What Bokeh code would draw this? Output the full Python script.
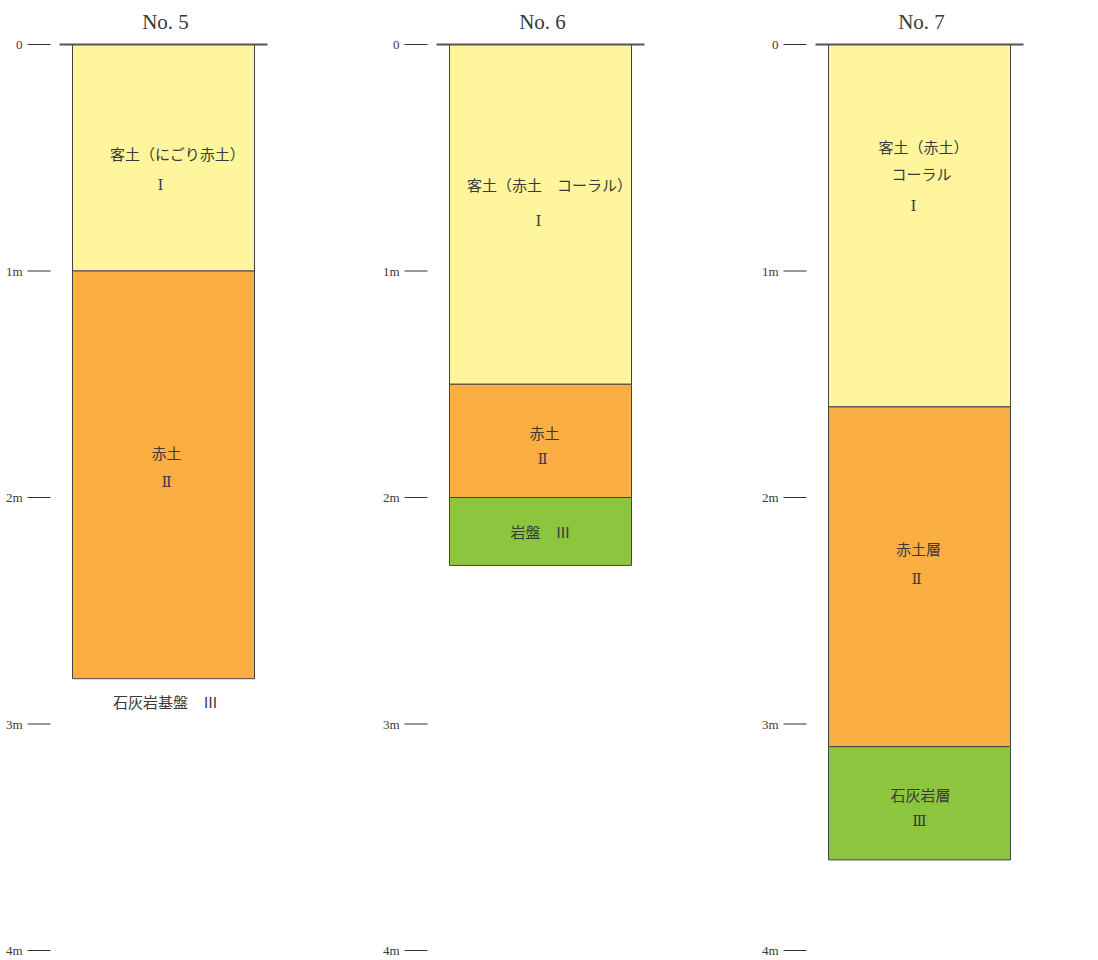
from bokeh.plotting import figure
from bokeh.models import Range1d
from bokeh.core.properties import value
from bokeh.embed import file_html
from bokeh.resources import INLINE

# ---- data ----
titles = ["No. 5", "No. 6", "No. 7"]
tick_depths = [0, 1, 2, 3, 4]
tick_labels = ["0", "1m", "2m", "3m", "4m"]

# layers per column: top depth, bottom depth, kind
no5_top = [0.0, 1.0]
no5_bot = [1.0, 2.8]
no5_kind = ["I", "II"]

no6_top = [0.0, 1.5, 2.0]
no6_bot = [1.5, 2.0, 2.3]
no6_kind = ["I", "II", "III"]

no7_top = [0.0, 1.6, 3.1]
no7_bot = [1.6, 3.1, 3.6]
no7_kind = ["I", "II", "III"]

# labels: (text, depth, x offset from column centre, roman?)
no5_labels = [("客土（にごり赤土）", 0.48, 14, False), ("Ⅰ", 0.62, -3, True),
              ("赤土", 1.80, 3, False), ("Ⅱ", 1.93, 3, True),
              ("石灰岩基盤　Ⅲ", 2.90, 2, False)]
no6_labels = [("客土（赤土　コーラル）", 0.62, 9, False), ("Ⅰ", 0.78, -2, True),
              ("赤土", 1.715, 4, False), ("Ⅱ", 1.83, 2, True),
              ("岩盤　Ⅲ", 2.15, 0, False)]
no7_labels = [("客土（赤土）", 0.45, 4, False), ("コーラル", 0.57, 2, False),
              ("Ⅰ", 0.715, -6, True), ("赤土層", 2.225, -1, False),
              ("Ⅱ", 2.36, -3, True), ("石灰岩層", 3.31, 1, False),
              ("Ⅲ", 3.43, 0, True)]

colors = {"I": "#FFF59C", "II": "#FBAE42", "III": "#8CC63F"}

columns = [
    (163, no5_top, no5_bot, no5_kind, no5_labels),
    (540, no6_top, no6_bot, no6_kind, no6_labels),
    (919, no7_top, no7_bot, no7_kind, no7_labels),
]

W, H = 1090, 960
PX_PER_M = 226.5
top_px = 44
y_top = -top_px / PX_PER_M
y_bot = (H - top_px) / PX_PER_M

p = figure(width=W, height=H, output_backend="svg", toolbar_location=None,
           x_range=Range1d(0, W), y_range=Range1d(y_bot, y_top),
           min_border=0, outline_line_color=None)
p.axis.visible = False
p.grid.visible = False
p.background_fill_color = "white"

CJK = value("Noto Sans CJK JP")
SERIF = value("Liberation Serif")
ROMAN = value("DejaVu Serif")
TXT = "#3a3a3a"
RECT_W = 182

for (cx, tops, bots, kinds, labels), title in zip(columns, titles):
    # depth scale
    p.segment(x0=[cx - 136] * len(tick_depths), x1=[cx - 113] * len(tick_depths),
              y0=tick_depths, y1=tick_depths, line_color="#333333", line_width=1)
    p.text(x=[cx - 141] * len(tick_depths), y=tick_depths, text=tick_labels,
           text_font=SERIF, text_font_size="13px", text_color=TXT,
           text_align="right", text_baseline="middle")
    # layers
    p.quad(left=[cx - RECT_W / 2] * len(tops), right=[cx + RECT_W / 2] * len(tops),
           top=tops, bottom=bots, fill_color=[colors[k] for k in kinds],
           line_color="#444444", line_width=1)
    # ground surface line
    p.segment(x0=[cx - 104], x1=[cx + 104], y0=[0], y1=[0],
              line_color="#555555", line_width=2)
    # title
    p.text(x=[cx + 2], y=[y_top + 21 / PX_PER_M], text=[title], text_font=SERIF,
           text_font_size="21px", text_color=TXT, text_align="center",
           text_baseline="middle")
    # labels
    cjk = [l for l in labels if not l[3]]
    rom = [l for l in labels if l[3]]
    p.text(x=[cx + l[2] for l in cjk], y=[l[1] for l in cjk],
           text=[l[0] for l in cjk], text_font=CJK, text_font_size="15px",
           text_color=TXT, text_align="center", text_baseline="middle")
    p.text(x=[cx + l[2] for l in rom], y=[l[1] for l in rom],
           text=[l[0] for l in rom], text_font=ROMAN, text_font_size="15px",
           text_color=TXT, text_align="center", text_baseline="middle")

open("out.html", "w").write(file_html(p, INLINE))
